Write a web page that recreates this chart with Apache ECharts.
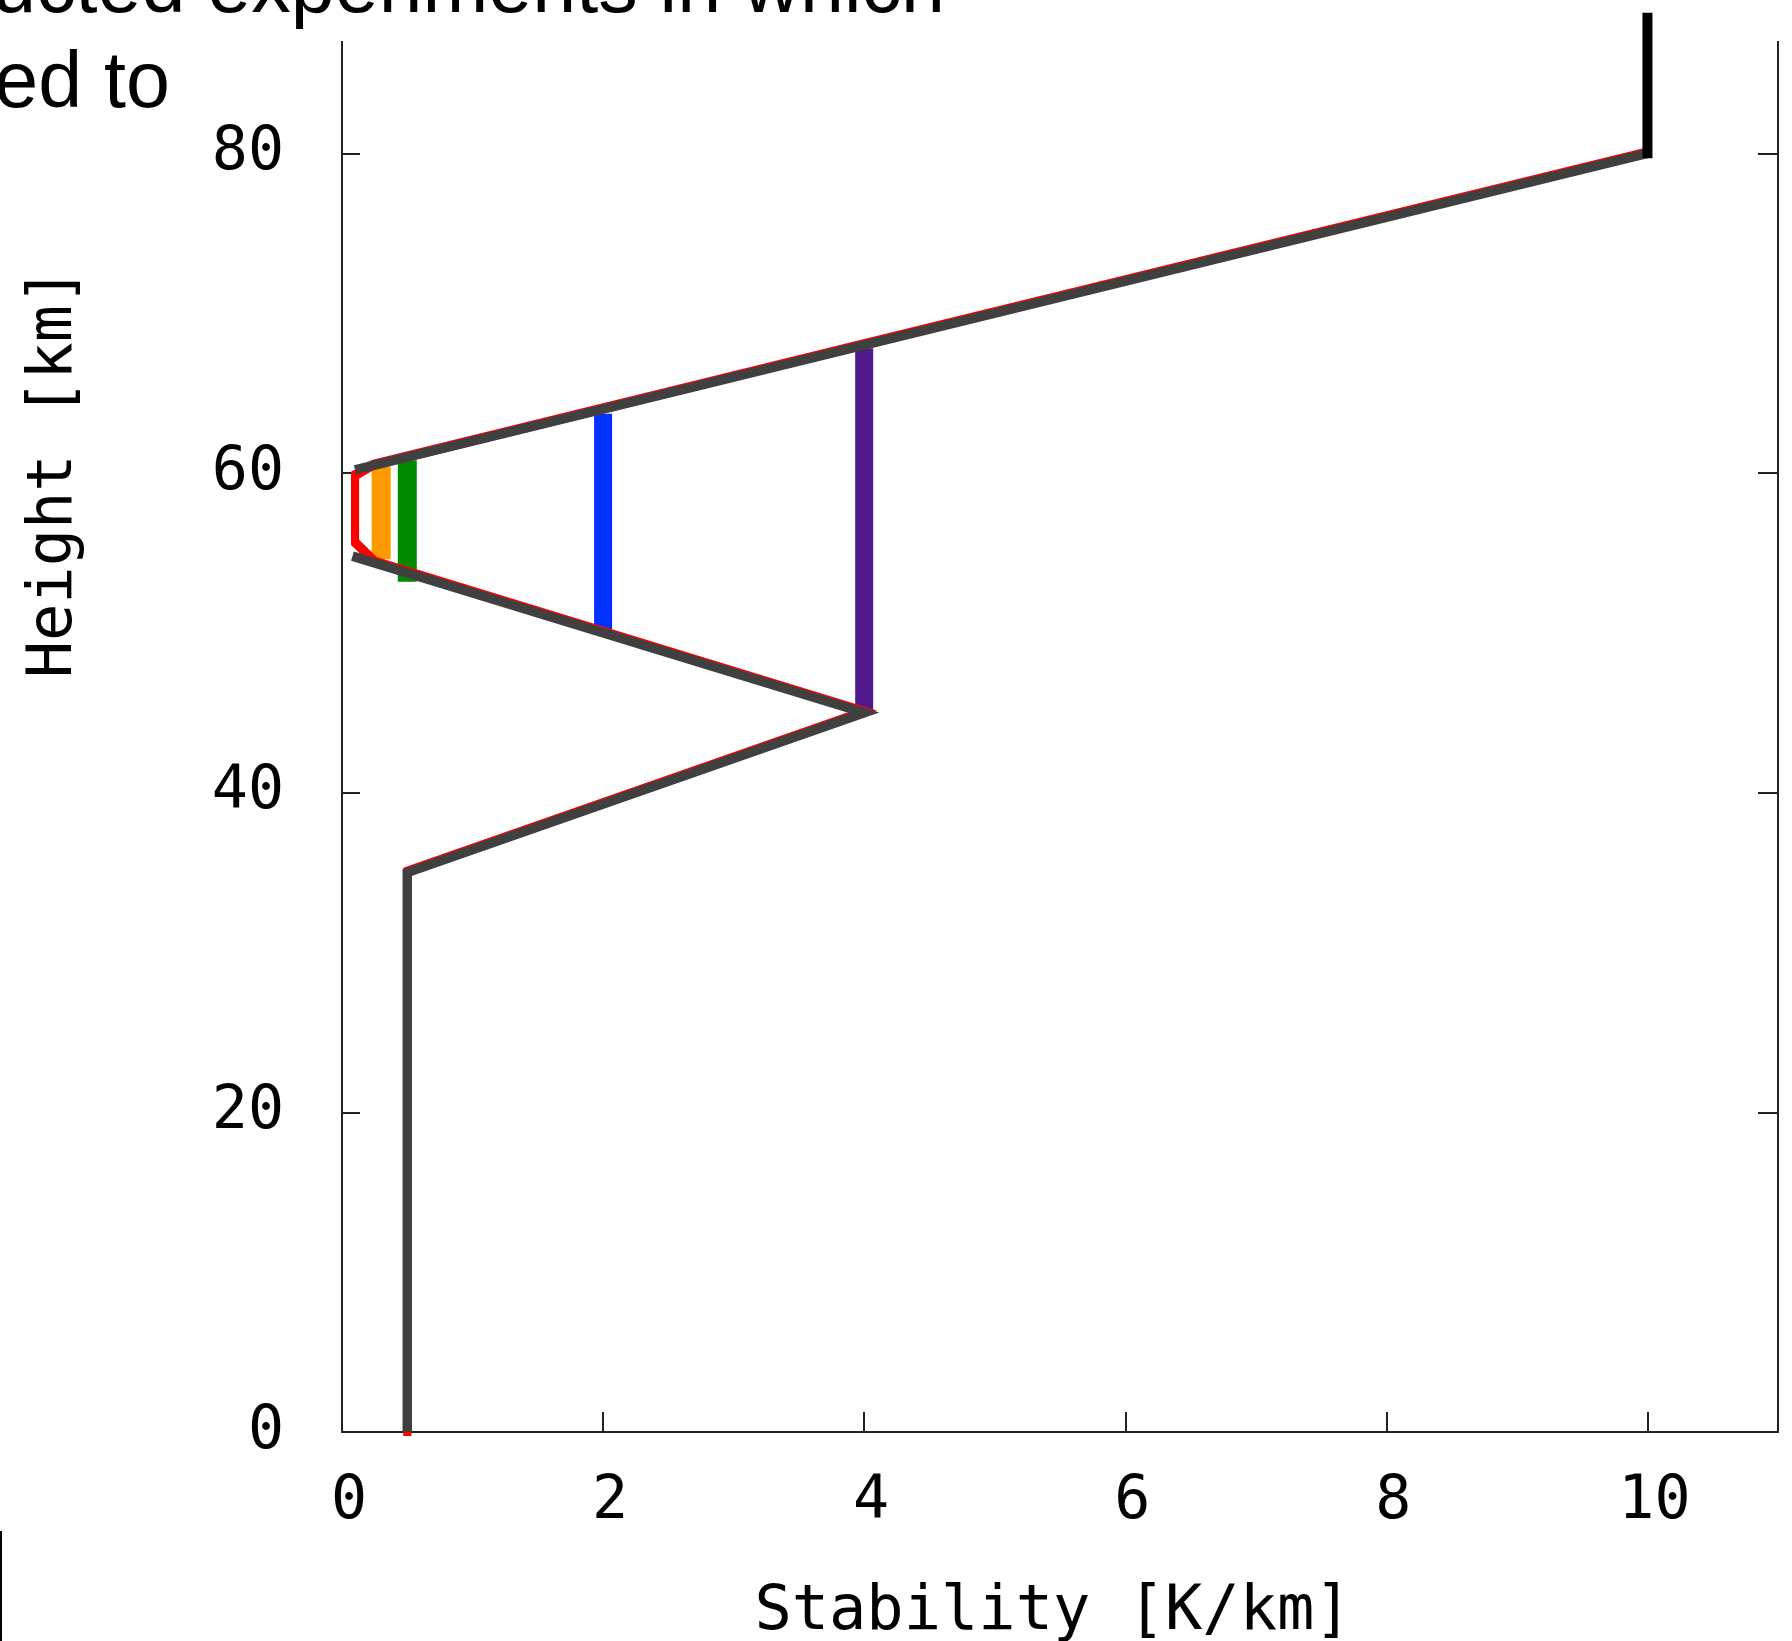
<!DOCTYPE html>
<html>
<head>
<meta charset="utf-8">
<title>Stability profile</title>
<script src="https://cdn.jsdelivr.net/npm/echarts@6.0.0/dist/echarts.min.js"></script>
<style>
  html, body { margin: 0; padding: 0; background: #fff; }
  #chart { width: 1792px; height: 1641px; }
</style>
</head>
<body>
<div id="chart"></div>
<script>
// tick values
const xTicks = [0, 2, 4, 6, 8, 10]
const yTicks = [0, 20, 40, 60, 80]

// reference stability profile (gray), [stability K/km, height km]
const baseLower = [[0.5, 0], [0.5, 35], [4, 45], [0.08, 54.8]]
const baseUpper = [[0.1, 60.2], [4, 68], [10, 80]]
const baseTop = [[10, 79.7], [10, 88.8]]

// experiments
const redProfile = [[0.5, 0], [0.5, 35], [4, 45], [0.25, 54.4], [0.1, 55.6], [0.1, 59.8], [0.24, 60.45], [4, 68], [10, 80], [10, 120]]
const orangeLine = [[0.3, 54.6], [0.3, 60.4]]
const greenLine = [[0.5, 53.2], [0.5, 60.8]]
const blueLine = [[2, 50.2], [2, 63.7]]
const purpleLine = [[4, 44.9], [4, 67.8]]

const monoFont = 'DejaVu Sans Mono'

function seg(data, color, width, extra) {
  return Object.assign({
    type: 'line',
    data: data,
    symbol: 'none',
    silent: true,
    animation: false,
    lineStyle: { color: color, width: width, cap: 'butt', join: 'miter' }
  }, extra || {})
}

const chart = echarts.init(document.getElementById('chart'))

chart.setOption({
  backgroundColor: '#fff',
  animation: false,
  grid: {
    left: 342,
    right: 14,
    top: -486,   // axis runs to 120 km, top of it is off the slide
    bottom: 209,
    containLabel: false,
    outerBoundsMode: 'none'
  },
  xAxis: {
    type: 'value',
    min: 0,
    max: 11,
    name: 'Stability [K/km]',
    nameLocation: 'middle',
    nameGap: 150,
    nameTextStyle: { fontFamily: monoFont, fontSize: 62, color: '#000', padding: [0, 14, 0, 0] },
    axisLine: { lineStyle: { color: '#222', width: 2 } },
    axisTick: { inside: true, length: 20, customValues: xTicks, lineStyle: { color: '#222', width: 2 } },
    axisLabel: {
      customValues: xTicks,
      margin: 40,
      fontFamily: monoFont,
      fontSize: 60,
      color: '#000',
      padding: [0, 0, 0, 14]
    },
    splitLine: { show: false }
  },
  yAxis: [{
    type: 'value',
    min: 0,
    max: 120,
    position: 'left',
    name: 'Height [km]',
    nameLocation: 'middle',
    nameGap: 256,
    nameMoveOverlap: false,
    nameTextStyle: { fontFamily: monoFont, fontSize: 62, color: '#000' },
    axisLine: { show: true, lineStyle: { color: '#222', width: 2 } },
    axisTick: { show: true, inside: true, length: 18, customValues: yTicks, lineStyle: { color: '#222', width: 2 } },
    axisLabel: { customValues: yTicks, margin: 58, fontFamily: monoFont, fontSize: 60, color: '#000' },
    splitLine: { show: false }
  }, {
    type: 'value',
    min: 0,
    max: 120,
    position: 'right',
    axisLine: { show: true, lineStyle: { color: '#222', width: 2 } },
    axisTick: { show: true, inside: true, length: 20, customValues: yTicks, lineStyle: { color: '#222', width: 2 } },
    axisLabel: { show: false },
    splitLine: { show: false }
  }],
  series: [
    seg(purpleLine, '#501a8c', 18),
    seg(blueLine, '#0033ff', 18),
    seg(greenLine, '#008a00', 19),
    seg(orangeLine, '#ff9900', 19),
    seg(redProfile, '#ff0000', 8, {
      lineStyle: { color: '#ff0000', width: 8, cap: 'square', join: 'miter', shadowColor: '#ff0000', shadowBlur: 0, shadowOffsetY: -2 }
    }),
    seg(baseLower, '#404040', 9.5),
    seg(baseUpper, '#404040', 9.5),
    seg(baseTop, '#000000', 10, { z: 20, clip: false })
  ],
  graphic: [
    // white slide text box covering the top of the plot
    { type: 'rect', z: 10, shape: { x: 300, y: 0, width: 1492, height: 41 }, style: { fill: '#fff' } },
    {
      type: 'text', z: 11, x: 945, y: -10,
      style: { text: 'conducted experiments in which', fill: '#000', font: '79px "Liberation Sans", Arial, sans-serif', align: 'right', verticalAlign: 'middle' }
    },
    {
      type: 'text', z: 11, x: 170, y: 85,
      style: { text: 'ed to', fill: '#000', font: '79px "Liberation Sans", Arial, sans-serif', align: 'right', verticalAlign: 'middle' }
    },
    { type: 'line', z: 11, shape: { x1: 1, y1: 1531, x2: 1, y2: 1641 }, style: { stroke: '#000', lineWidth: 2 } }
  ]
})
</script>
</body>
</html>
